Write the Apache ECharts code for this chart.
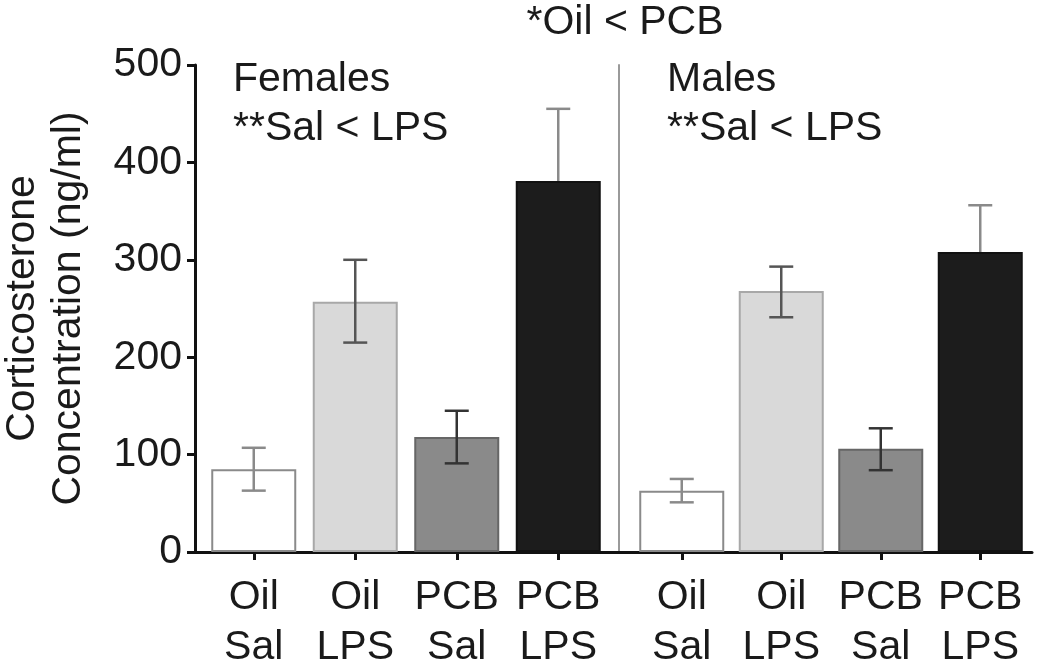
<!DOCTYPE html>
<html><head><meta charset="utf-8">
<script src="https://cdn.jsdelivr.net/npm/echarts@6/dist/echarts.min.js"></script>
<style>html,body{margin:0;padding:0;background:#fff}#c{width:1050px;height:666px}</style>
</head><body><div id="c"></div>
<script>
const categories = ['Oil\nSal', 'Oil\nLPS', 'PCB\nSal', 'PCB\nLPS'];
const femaleMean = [85, 257, 118, 381];
const femaleErrLow = [63, 215, 91, 308];
const femaleErrHigh = [107, 300, 145, 455];
const maleMean = [63, 268, 106, 308];
const maleErrLow = [51, 241, 84, 261];
const maleErrHigh = [75, 293, 127, 356];
const yTicks = [0, 100, 200, 300, 400, 500];

const FONT = "'Liberation Sans', Arial, sans-serif";
const TXT = '#1a1a1a';
const barFill = ['#ffffff', '#d9d9d9', '#8a8a8a', '#1c1c1c'];
const barBorder = ['#8a8a8a', '#a8a8a8', '#666666', '#111111'];
const errColor = ['#8a8a8a', '#555555', '#333333', '#8a8a8a'];

function barData(vals) {
  return vals.map((v, i) => ({ value: v, itemStyle: { color: barFill[i], borderColor: barBorder[i], borderWidth: 2 } }));
}
function errData(lo, hi, idxs) {
  return idxs.map(i => [i, lo[i], hi[i]]);
}
function renderErr(params, api) {
  const i = api.value(0);
  const lo = api.coord([i, api.value(1)]);
  const hi = api.coord([i, api.value(2)]);
  const cap = 12;
  const style = { stroke: errColor[i], lineWidth: 2.5 };
  return {
    type: 'group',
    children: [
      { type: 'line', shape: { x1: hi[0], y1: hi[1], x2: lo[0], y2: lo[1] }, style },
      { type: 'line', shape: { x1: hi[0] - cap, y1: hi[1], x2: hi[0] + cap, y2: hi[1] }, style },
      { type: 'line', shape: { x1: lo[0] - cap, y1: lo[1], x2: lo[0] + cap, y2: lo[1] }, style }
    ]
  };
}

const chart = echarts.init(document.getElementById('c'));
const yCommon = {
  type: 'value', min: 0, max: 500, interval: 100,
  splitLine: { show: false }
};
const xCommon = {
  type: 'category', data: categories,
  axisLine: { show: false },
  axisTick: { show: true, alignWithLabel: true, length: 8, lineStyle: { color: '#111', width: 3 } },
  axisLabel: { fontFamily: FONT, fontSize: 41, color: TXT, lineHeight: 50, margin: 21, interval: 0 }
};
chart.setOption({
  animation: false,
  backgroundColor: '#fff',
  grid: [
    { left: 203, width: 406, top: 65, bottom: 114, outerBoundsMode: 'none', containLabel: false },
    { left: 632, width: 398, top: 65, bottom: 114, outerBoundsMode: 'none', containLabel: false },
    { left: 195, right: 18, top: 65, bottom: 114, outerBoundsMode: 'none', containLabel: false }
  ],
  xAxis: [
    Object.assign({ gridIndex: 0 }, xCommon),
    Object.assign({ gridIndex: 1 }, xCommon),
    { gridIndex: 2, type: 'value', min: 0, max: 1,
      axisLine: { show: true, lineStyle: { color: '#111', width: 3 } },
      axisTick: { show: false }, axisLabel: { show: false }, splitLine: { show: false } }
  ],
  yAxis: [
    Object.assign({ gridIndex: 0, offset: 8,
      axisLine: { show: true, lineStyle: { color: '#111', width: 3 } },
      axisTick: { show: true, length: 8, lineStyle: { color: '#111', width: 3 } },
      axisLabel: { fontFamily: FONT, fontSize: 41, color: TXT, margin: 13,
        formatter: v => yTicks.includes(v) ? String(v) : '' },
      name: 'Corticosterone\nConcentration (ng/ml)',
      nameLocation: 'middle', nameRotate: 90, nameGap: 103,
      nameTextStyle: { fontFamily: FONT, fontSize: 41, color: TXT, lineHeight: 46 }
    }, yCommon),
    Object.assign({ gridIndex: 1, offset: 13,
      axisLine: { show: true, lineStyle: { color: '#9a9a9a', width: 2 } },
      axisTick: { show: false }, axisLabel: { show: false } }, yCommon),
    { gridIndex: 2, type: 'value', min: 0, max: 1, show: false }
  ],
  series: [
    { type: 'bar', xAxisIndex: 0, yAxisIndex: 0, barWidth: 85, data: barData(femaleMean), z: 3 },
    { type: 'bar', xAxisIndex: 1, yAxisIndex: 1, barWidth: 85, data: barData(maleMean), z: 3 },
    { type: 'custom', xAxisIndex: 0, yAxisIndex: 0, renderItem: renderErr, data: errData(femaleErrLow, femaleErrHigh, [0, 1, 2]), z: 5 },
    { type: 'custom', xAxisIndex: 0, yAxisIndex: 0, renderItem: renderErr, data: errData(femaleErrLow, femaleErrHigh, [3]), z: 1 },
    { type: 'custom', xAxisIndex: 1, yAxisIndex: 1, renderItem: renderErr, data: errData(maleErrLow, maleErrHigh, [0, 1, 2]), z: 5 },
    { type: 'custom', xAxisIndex: 1, yAxisIndex: 1, renderItem: renderErr, data: errData(maleErrLow, maleErrHigh, [3]), z: 1 }
  ],
  graphic: [
    { type: 'text', x: 625, y: 23, style: { text: '*Oil < PCB', font: '41px ' + FONT, fill: TXT, align: 'center', verticalAlign: 'middle' } },
    { type: 'text', x: 233, y: 80, style: { text: 'Females', font: '41px ' + FONT, fill: TXT, align: 'left', verticalAlign: 'middle' } },
    { type: 'text', x: 233, y: 129, style: { text: '**Sal < LPS', font: '41px ' + FONT, fill: TXT, align: 'left', verticalAlign: 'middle' } },
    { type: 'text', x: 667, y: 80, style: { text: 'Males', font: '41px ' + FONT, fill: TXT, align: 'left', verticalAlign: 'middle' } },
    { type: 'text', x: 667, y: 129, style: { text: '**Sal < LPS', font: '41px ' + FONT, fill: TXT, align: 'left', verticalAlign: 'middle' } }
  ]
});
</script></body></html>
